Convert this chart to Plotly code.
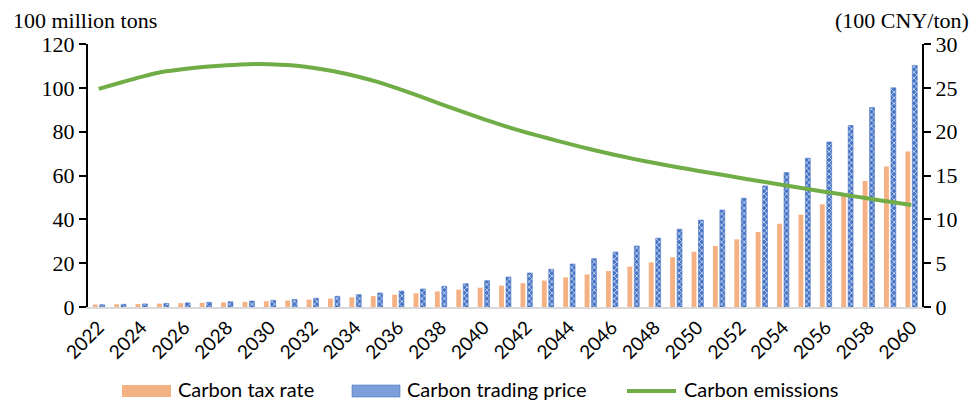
import plotly.graph_objects as go

# Years 2022-2060
years = [str(y) for y in range(2022, 2061)]
tick_years = [str(y) for y in range(2022, 2061, 2)]

# Carbon tax rate (100 CNY/ton)
carbon_tax = [0.28, 0.31, 0.35, 0.39, 0.44, 0.48, 0.53, 0.59, 0.66, 0.74,
              0.84, 0.96, 1.10, 1.24, 1.40, 1.57, 1.77, 1.98, 2.20, 2.44,
              2.72, 3.02, 3.38, 3.72, 4.10, 4.60, 5.10, 5.68, 6.31, 6.96,
              7.72, 8.55, 9.50, 10.53, 11.71, 12.90, 14.38, 16.02, 17.73]

# Carbon trading price (100 CNY/ton)
carbon_trade = [0.26, 0.30, 0.35, 0.41, 0.47, 0.53, 0.60, 0.68, 0.76, 0.86,
                1.00, 1.22, 1.41, 1.60, 1.82, 2.05, 2.36, 2.66, 3.00, 3.42,
                3.88, 4.30, 4.90, 5.51, 6.27, 6.96, 7.85, 8.87, 9.92, 11.06,
                12.41, 13.81, 15.33, 16.98, 18.82, 20.69, 22.75, 25.00, 27.56]

# Carbon emissions (100 million tons)
emissions = [99.5, 102.3, 105.0, 107.3, 108.6, 109.6, 110.3, 110.8, 110.8, 110.3,
             109.2, 107.6, 105.4, 102.8, 99.6, 96.2, 92.6, 89.1, 85.7, 82.5,
             79.6, 77.0, 74.4, 72.0, 69.7, 67.6, 65.7, 63.9, 62.2, 60.6,
             58.9, 57.3, 55.7, 54.1, 52.5, 51.0, 49.5, 48.0, 46.5]

legend_names = ["Carbon tax rate", "Carbon trading price", "Carbon emissions"]

ORANGE = "#F4B183"
BLUE = "#4472C4"
GREEN = "#70AD47"
SERIF = "Liberation Serif"
SANS = "Lato"

fig = go.Figure()

fig.add_trace(go.Bar(
    x=years, y=carbon_tax, name=legend_names[0], yaxis="y",
    marker=dict(color=ORANGE, line=dict(width=0)), showlegend=False,
))
fig.add_trace(go.Bar(
    x=years, y=carbon_trade, name=legend_names[1], yaxis="y",
    marker=dict(color=BLUE, line=dict(color=BLUE, width=0.6),
                pattern=dict(shape="x", fgcolor="white", bgcolor=BLUE,
                             size=4, solidity=0.3, fillmode="replace")),
    showlegend=False,
))
fig.add_trace(go.Scatter(
    x=years, y=emissions, name=legend_names[2], yaxis="y2", mode="lines",
    line=dict(color=GREEN, width=4, shape="spline", smoothing=0.6),
    showlegend=False,
))

# Hand-built legend row below the axis
L, R, T, B = 88, 922, 44, 307
W, H = R - L, B - T


def px(x):
    return (x - L) / W


def py(y):
    return (B - y) / H


shapes = [
    dict(type="rect", xref="paper", yref="paper",
         x0=px(122), x1=px(171), y0=py(397), y1=py(385),
         fillcolor=ORANGE, line=dict(width=0)),
    dict(type="rect", xref="paper", yref="paper",
         x0=px(352), x1=px(400), y0=py(397), y1=py(385),
         fillcolor="#7E9EDB", line=dict(color=BLUE, width=0.6)),
    dict(type="line", xref="paper", yref="paper",
         x0=px(627), x1=px(676), y0=py(391), y1=py(391),
         line=dict(color=GREEN, width=4)),
]

annotations = [
    dict(text=legend_names[0], x=px(176), y=py(389), xref="paper", yref="paper",
         xanchor="left", yanchor="middle", showarrow=False,
         font=dict(family=SANS, size=20, color="black")),
    dict(text=legend_names[1], x=px(405), y=py(389), xref="paper", yref="paper",
         xanchor="left", yanchor="middle", showarrow=False,
         font=dict(family=SANS, size=20, color="black")),
    dict(text=legend_names[2], x=px(682), y=py(389), xref="paper", yref="paper",
         xanchor="left", yanchor="middle", showarrow=False,
         font=dict(family=SANS, size=20, color="black")),
    dict(text="100 million tons", x=px(11), y=py(20), xref="paper", yref="paper",
         xanchor="left", yanchor="middle", showarrow=False,
         font=dict(family=SERIF, size=22, color="black")),
    dict(text="(100 CNY/ton)", x=px(971), y=py(20), xref="paper", yref="paper",
         xanchor="right", yanchor="middle", showarrow=False,
         font=dict(family=SERIF, size=22, color="black")),
]

fig.update_layout(
    width=979, height=401,
    margin=dict(l=L, r=979 - R, t=T, b=401 - B),
    paper_bgcolor="white", plot_bgcolor="white",
    barmode="group", bargap=0.35, bargroupgap=0.3,
    showlegend=False,
    xaxis=dict(
        type="category", tickmode="array", tickvals=tick_years, ticktext=tick_years,
        tickangle=-45, showgrid=False, showline=True, linecolor="#D9D9D9",
        linewidth=2, ticks="", zeroline=False,
        tickfont=dict(family=SANS, size=19, color="black"),
    ),
    yaxis=dict(
        side="right", range=[0, 30], tick0=0, dtick=5, showgrid=False,
        showline=True, linecolor="black", linewidth=2, ticks="outside",
        ticklen=7, tickwidth=2, tickcolor="black", zeroline=False,
        tickfont=dict(family=SERIF, size=22, color="black"),
    ),
    yaxis2=dict(
        side="left", overlaying="y", range=[0, 120], tick0=0, dtick=20,
        showgrid=False, showline=True, linecolor="black", linewidth=2,
        ticks="outside", ticklen=7, tickwidth=2, tickcolor="black",
        zeroline=False, tickfont=dict(family=SERIF, size=22, color="black"),
    ),
    shapes=shapes,
    annotations=annotations,
)

fig.write_html("out.html")
